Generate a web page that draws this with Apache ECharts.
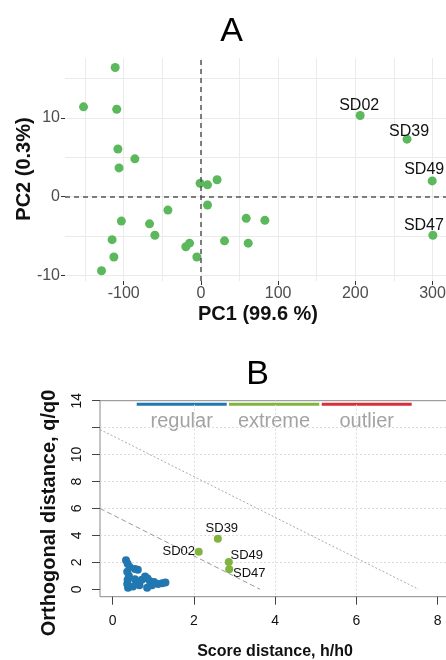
<!DOCTYPE html>
<html>
<head>
<meta charset="utf-8">
<script src="https://cdn.jsdelivr.net/npm/echarts@6/dist/echarts.min.js"></script>
<style>
  html, body { margin: 0; padding: 0; background: #fff; }
  #chart { width: 446px; height: 660px; }
</style>
</head>
<body>
<div id="chart"></div>
<script>
// panel A: PCA scores
const pcaRegularX = [-111, -152, -109, -107.5, -85.5, -106, -1, 8.6, 21, 8.6, -42.7, -103,
  -66.5, -59.6, -115, -112.7, -128.7, -19.5, -14.7, -5.2, 30.6, 58.7, 82.9, 61.3];
const pcaRegularY = [16.4, 11.4, 11.1, 6.05, 4.8, 3.65, 1.7, 1.5, 2.15, -1.05, -1.7, -3.1,
  -3.45, -4.9, -5.45, -7.65, -9.4, -6.35, -5.9, -7.65, -5.6, -2.75, -3.0, -5.9];
const pcaExtremeNames = ["SD02", "SD39", "SD49", "SD47"];
const pcaExtremeX = [206.3, 267, 299.6, 300.5];
const pcaExtremeY = [10.3, 7.3, 2.0, -4.9];
const pcaXTicks = [-100, 0, 100, 200, 300];
const pcaYTicks = [-10, 0, 10];

// panel B: distance plot
const ddRegularH = [0.33, 0.37, 0.42, 0.55, 0.62, 0.36, 0.40, 0.37, 0.36, 0.38, 0.50, 0.60,
  0.55, 0.72, 0.80, 0.86, 0.92, 0.97, 0.85, 1.02, 1.12, 1.22, 1.30, 0.66];
const ddRegularQ = [2.15, 1.90, 1.65, 1.50, 1.45, 1.30, 1.00, 0.70, 0.40, 0.12, 0.20, 0.55,
  0.75, 0.70, 0.95, 0.80, 0.60, 0.30, 0.12, 0.55, 0.40, 0.45, 0.50, 0.30];
const ddExtremeNames = ["SD02", "SD39", "SD49", "SD47"];
const ddExtremeH = [2.12, 2.59, 2.86, 2.87];
const ddExtremeQ = [2.78, 3.75, 2.03, 1.49];
const extremeLineH = [-0.31, 3.63];
const extremeLineQ = [6.0, 0];
const outlierLineH = [-0.31, 7.53];
const outlierLineQ = [11.86, 0];
const ddXTicks = [0, 2, 4, 6, 8];
const ddYTicks = [0, 2, 4, 6, 8, 10, 12, 14];
const ddYLabels = [0, 2, 4, 6, 8, 10, 14];
const legendNames = ["regular", "extreme", "outlier"];

const FONT = "'Liberation Sans', Arial, sans-serif";
const zip = (a, b) => a.map((v, i) => [v, b[i]]);

const pcaLabelOffsets = [[-1, -10], [2, -8], [-8, -11], [-9, -10]];
const ddLabelOffsets = [[-20, 0], [4, -10], [18, -7], [20, 4]];

const chart = echarts.init(document.getElementById("chart"));

function text(x, y, str, font, fill, rot) {
  return {
    type: "text", x: x, y: y, rotation: rot || 0,
    style: { text: str, font: font, fill: fill, textAlign: "center", textVerticalAlign: "middle" }
  };
}

const noLine = { show: false, onZero: false };

chart.setOption({
  animation: false,
  textStyle: { fontFamily: FONT },
  grid: [
    { left: 65, top: 58, width: 398, height: 223, outerBoundsMode: "none" },
    {
      left: 100, top: 400.7, width: 358, height: 196, outerBoundsMode: "none",
      show: true, borderColor: "#888", borderWidth: 1
    }
  ],
  xAxis: [
    {
      gridIndex: 0, type: "value", position: "bottom", min: -176, max: 339.5, minInterval: 50, maxInterval: 50,
      axisLine: noLine, axisTick: { show: false }, axisLabel: { show: false },
      splitLine: { lineStyle: { color: "#ebebeb", width: 1 }, showMinLine: false, showMaxLine: false }
    },
    {
      gridIndex: 0, type: "value", position: "bottom", min: -176, max: 339.5,
      axisLine: noLine, splitLine: { show: false },
      axisTick: { customValues: pcaXTicks, length: 4, lineStyle: { color: "#333" } },
      axisLabel: { customValues: pcaXTicks, color: "#4d4d4d", fontSize: 16, margin: 5, fontFamily: FONT }
    },
    {
      gridIndex: 1, type: "value", position: "bottom", min: -0.31, max: 8.5, minInterval: 2, maxInterval: 2,
      axisLine: noLine,
      axisTick: { customValues: ddXTicks, length: 8, lineStyle: { color: "#444" } },
      axisLabel: { customValues: ddXTicks, color: "#111", fontSize: 14, margin: 17, fontFamily: FONT },
      splitLine: { lineStyle: { color: "#dcdcdc", type: [2, 2] }, showMinLine: false, showMaxLine: false }
    }
  ],
  yAxis: [
    {
      gridIndex: 0, type: "value", position: "left", min: -10.7, max: 17.6, minInterval: 5, maxInterval: 5,
      axisLine: noLine, axisTick: { show: false }, axisLabel: { show: false },
      splitLine: { lineStyle: { color: "#ebebeb", width: 1 }, showMinLine: false, showMaxLine: false }
    },
    {
      gridIndex: 0, type: "value", position: "left", min: -10.7, max: 17.6,
      axisLine: noLine, splitLine: { show: false },
      axisTick: { customValues: pcaYTicks, length: 4, lineStyle: { color: "#333" } },
      axisLabel: { customValues: pcaYTicks, color: "#4d4d4d", fontSize: 16, margin: 5, fontFamily: FONT }
    },
    {
      gridIndex: 1, type: "value", position: "left", min: -0.55, max: 14, minInterval: 2, maxInterval: 2,
      axisLine: noLine,
      axisTick: { customValues: ddYTicks, length: 8, lineStyle: { color: "#444" } },
      axisLabel: { customValues: ddYLabels, color: "#111", fontSize: 14, margin: 16, rotate: 90, fontFamily: FONT },
      splitLine: { lineStyle: { color: "#dcdcdc", type: [2, 2] }, showMinLine: false, showMaxLine: false }
    }
  ],
  series: [
    {
      type: "scatter", xAxisIndex: 0, yAxisIndex: 0,
      data: zip(pcaRegularX, pcaRegularY), symbolSize: 9,
      itemStyle: { color: "#5cb85c", opacity: 1 },
      markLine: {
        silent: true, symbol: "none", label: { show: false },
        lineStyle: { color: "#555", type: [5, 4], width: 1.5 },
        data: [{ xAxis: 0 }, { yAxis: 0 }]
      },
      z: 3
    },
    {
      type: "scatter", xAxisIndex: 0, yAxisIndex: 0, symbolSize: 9,
      itemStyle: { color: "#5cb85c", opacity: 1 },
      data: pcaExtremeX.map((x, i) => ({
        value: [x, pcaExtremeY[i]], name: pcaExtremeNames[i],
        label: { offset: pcaLabelOffsets[i] }
      })),
      label: {
        show: true, position: "inside", formatter: "{b}",
        color: "#111", fontSize: 16, fontFamily: FONT
      },
      z: 3
    },
    {
      type: "line", xAxisIndex: 2, yAxisIndex: 2, showSymbol: false, silent: true,
      data: zip(outlierLineH, outlierLineQ),
      lineStyle: { color: "#aaa", width: 1, type: [2, 2] }
    },
    {
      type: "line", xAxisIndex: 2, yAxisIndex: 2, showSymbol: false, silent: true,
      data: zip(extremeLineH, extremeLineQ),
      lineStyle: { color: "#999", width: 1, type: [5, 3] }
    },
    {
      type: "scatter", xAxisIndex: 2, yAxisIndex: 2, symbolSize: 8,
      data: zip(ddRegularH, ddRegularQ),
      itemStyle: { color: "#2178b0", opacity: 1 }, z: 3
    },
    {
      type: "scatter", xAxisIndex: 2, yAxisIndex: 2, symbolSize: 8,
      itemStyle: { color: "#80b43f", opacity: 1 },
      data: ddExtremeH.map((h, i) => ({
        value: [h, ddExtremeQ[i]], name: ddExtremeNames[i],
        label: { offset: ddLabelOffsets[i] }
      })),
      label: {
        show: true, position: "inside", formatter: "{b}",
        color: "#111", fontSize: 13, fontFamily: FONT
      },
      z: 3
    }
  ],
  graphic: [
    text(231.7, 31.7, "A", "34px " + FONT, "#000"),
    text(257.5, 374.5, "B", "34px " + FONT, "#000"),
    text(24, 169, "PC2 (0.3%)", "bold 20px " + FONT, "#111", Math.PI / 2),
    text(258, 314, "PC1 (99.6 %)", "bold 20px " + FONT, "#111"),
    text(49, 513, "Orthogonal distance, q/q0", "bold 20px " + FONT, "#111", Math.PI / 2),
    text(275, 652, "Score distance, h/h0", "bold 16px " + FONT, "#111"),
    { type: "line", shape: { x1: 136.7, y1: 404.3, x2: 226.7, y2: 404.3 }, style: { stroke: "#2178b0", lineWidth: 3 } },
    { type: "line", shape: { x1: 229, y1: 404.3, x2: 319.3, y2: 404.3 }, style: { stroke: "#80b43f", lineWidth: 3 } },
    { type: "line", shape: { x1: 321.7, y1: 404.3, x2: 411.7, y2: 404.3 }, style: { stroke: "#d62f3a", lineWidth: 3 } },
    text(181.7, 421.7, legendNames[0], "20px " + FONT, "#a3a3a3"),
    text(274, 421.7, legendNames[1], "20px " + FONT, "#a3a3a3"),
    text(366.7, 421.7, legendNames[2], "20px " + FONT, "#a3a3a3")
  ]
});
</script>
</body>
</html>
